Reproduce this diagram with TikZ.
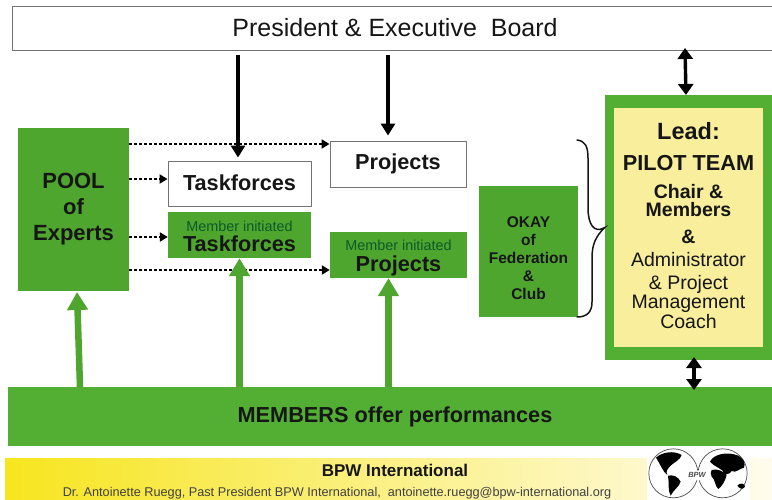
\documentclass[tikz,border=0pt]{standalone}
\usepackage{fontspec}
\setmainfont{Liberation Sans}
\usetikzlibrary{arrows.meta,calc}
\definecolor{grn}{HTML}{4FA62F}
\definecolor{grnb}{HTML}{53AF33}
\definecolor{pale}{HTML}{F8EE9C}
\definecolor{ink}{HTML}{161616}
\definecolor{minit}{HTML}{0B5A2A}
\definecolor{footL}{HTML}{F7E51E}
\definecolor{footM}{HTML}{FAF095}
\definecolor{footR}{HTML}{FFFCEE}
\newcommand{\minitxt}[1]{{\color{minit}\fontsize{14.4}{14.4}\selectfont #1}}
\newcommand{\bigtxt}[1]{{\bfseries\fontsize{21.7}{21.7}\selectfont #1}}
\tikzset{
  x=1pt,y=-1pt,
  greenbox/.style={fill=grn,draw=none,inner sep=0pt,text=ink,align=center},
  whitebox/.style={fill=white,draw=black!55,line width=0.9pt,inner sep=0pt,text=ink,align=center},
  blackarrow/.style={line width=3.6pt,-{Triangle[length=12pt,width=14pt]},black},
  bothway/.style={line width=3.4pt,{Triangle[length=11pt,width=15pt]}-{Triangle[length=11pt,width=15pt]},black},
  greenarrow/.style={line width=6.5pt,-{Triangle[length=18pt,width=20pt]},grn},
  dotarrow/.style={line width=2.6pt,dash pattern=on 2.4pt off 2.6pt,-{Triangle[length=8pt,width=9pt]},black},
  boxfont/.style={font=\bfseries\fontsize{#1}{#1}\selectfont},
  land/.style={fill=black,draw=none}
}
\begin{document}
\begin{tikzpicture}
\useasboundingbox (0,0) rectangle (772,500);
\fill[white] (0,0) rectangle (772,500);
% footer
\shade[left color=footL,middle color=footM,right color=footR] (5,458) rectangle (772,500);
\node[text=ink,font=\bfseries\fontsize{17}{17}\selectfont] (bpw) at (395,470) {BPW International};
\node[text=black!75,font=\fontsize{12.7}{12.7}\selectfont] (who) at (337,493) {Dr. Antoinette Ruegg, Past President BPW International,\ \ antoinette.ruegg@bpw-international.org};
% boxes
\node[whitebox,minimum width=770pt,minimum height=44pt,anchor=west,font=\fontsize{25}{25}\selectfont] (board) at (12,28) {};
\node[text=ink,inner sep=0pt,font=\fontsize{25}{25}\selectfont] (boardtxt) at (395,28) {President \&\ Executive\ \ Board};
\node[greenbox,minimum width=111pt,minimum height=163pt,font=\bfseries\fontsize{22}{26}\selectfont] (pool) at (73.5,209.5) {POOL\\of\\Experts};
\node[whitebox,minimum width=143pt,minimum height=45pt,boxfont=21.7] (tf) at (239.5,183.5) {\raisebox{2pt}{Taskforces}};
\node[greenbox,minimum width=143pt,minimum height=46pt,font=\fontsize{15}{20}\selectfont] (mtf) at (239.5,235) {\rule{0pt}{13pt}\minitxt{Member initiated}\\\bigtxt{Taskforces}};
\node[whitebox,minimum width=136pt,minimum height=46pt,boxfont=21.7] (pr) at (398,164) {\raisebox{2pt}{Projects}};
\node[greenbox,minimum width=137pt,minimum height=46pt,font=\fontsize{15}{21}\selectfont] (mpr) at (398.5,255) {\rule{0pt}{17pt}\minitxt{Member initiated}\\\bigtxt{Projects}};
\node[greenbox,minimum width=99pt,minimum height=131pt,font=\bfseries\fontsize{15.5}{18.2}\selectfont] (okay) at (528.5,251.5) {\rule{0pt}{24pt}OKAY\\of\\Federation\\\&\\Club};
\node[fill=grnb,inner sep=0pt,minimum width=167pt,minimum height=265pt] (pilotout) at (688.5,227.5) {};
\node[fill=pale,inner sep=0pt,minimum width=149pt,minimum height=239pt,text=ink,align=center,font=\fontsize{19.5}{19.5}\selectfont] (pilot) at (688.5,227.5) {%
{\bfseries\fontsize{23.5}{23.5}\selectfont Lead:}\\[12pt]
{\bfseries\fontsize{21.7}{21.7}\selectfont PILOT TEAM}\\[8.5pt]
{\bfseries Chair \&}\\[-1.5pt]
{\bfseries Members}\\[7.5pt]
{\bfseries \&}\\[3.5pt]
Administrator\\[3.5pt]
\& Project\\[-0.5pt]
Management\\[0.5pt]
Coach\rule[-4pt]{0pt}{4pt}};
\node[greenbox,fill=grnb,minimum width=764pt,minimum height=59pt,boxfont=21.7] (members) at (390,416.5) {\hspace{10pt}\raisebox{2pt}{MEMBERS offer performances}};
% brace
\coordinate (bracetip) at (pilotout.west);
\draw[ink,line width=1.5pt,line cap=round] (577,140) .. controls (585,141) and (588,146) .. (588,158)
  -- (588,208) .. controls (588,224) and (594,234) .. (bracetip)
  .. controls (596,236) and (592,244) .. (592,258)
  -- (592,302) .. controls (592,312) and (587,317) .. (577,317);
% black arrows
\draw[blackarrow,shorten <=5pt,shorten >=3pt] ($(board.south -| tf.north)+(-1.5,0)$) -- ($(tf.north)+(-1.5,0)$);
\draw[blackarrow,shorten <=5pt,shorten >=5pt] ($(board.south -| pr.north)+(-10,0)$) -- ($(pr.north)+(-10,0)$);
\coordinate (bwtop) at (685,48);
\coordinate (bwtopend) at (686,95);
\draw[bothway] (bwtop) -- (bwtopend);
\coordinate (bwlow) at (694,357);
\coordinate (bwlowend) at (694,390);
\draw[bothway] (bwlow) -- (bwlowend);
% dotted
\draw[dotarrow] (pool.east |- 0,144) -- (pr.west |- 0,144);
\draw[dotarrow] (pool.east |- 0,179) -- (tf.west |- 0,179);
\draw[dotarrow] (pool.east |- 0,237) -- (mtf.west |- 0,237);
\draw[dotarrow] (pool.east |- 0,270) -- (mpr.west |- 0,270);
% green arrows
\draw[greenarrow] (80,387) -- (77,292);
\draw[greenarrow] (members.north -| mtf.south) -- (mtf.south);
\draw[greenarrow] ($(members.north -| mpr.south)+(-10,0)$) -- ($(mpr.south)+(-10,0)$);
% logo
\begin{scope}[shift={(630,445)},x=0.3333pt,y=-0.3333pt]
\fill[white] (50,20) rectangle (360,165);
\draw[black!70,line width=.7pt,fill=white] (130,85) circle [radius=24.5pt];
\draw[black!70,line width=.7pt,fill=white] (278,85) circle [radius=24.5pt];
\fill[land] (78,38) .. controls (95,22) and (130,15) .. (155,30) .. controls (150,45) and (135,50) .. (122,62) .. controls (112,72) and (106,80) .. (112,90) .. controls (98,80) and (90,55) .. cycle;
\fill[land] (114,92) .. controls (128,88) and (145,95) .. (152,110) .. controls (148,125) and (130,135) .. (122,152) .. controls (112,135) and (118,110) .. cycle;
\fill[land] (240,50) .. controls (250,28) and (290,18) .. (325,32) .. controls (340,40) and (348,55) .. (342,68) .. controls (325,72) and (318,85) .. (305,78) .. controls (298,90) and (290,85) .. (285,88) .. controls (280,70) and (250,65) .. cycle;
\fill[land] (245,75) .. controls (260,70) and (280,78) .. (290,90) .. controls (285,110) and (275,125) .. (265,132) .. controls (255,125) and (255,100) .. (245,95) .. controls (240,90) and (242,82) .. cycle;
\fill[land] (322,122) .. controls (330,112) and (345,115) .. (345,125) .. controls (340,135) and (328,132) .. cycle;
\fill[white] (202,91) ellipse [x radius=14pt, y radius=5pt];
\end{scope}
\node[inner sep=0pt,text=black!70,font=\bfseries\itshape\fontsize{7.5}{7.5}\selectfont] (logo) at (697,475) {BPW};
\end{tikzpicture}
\end{document}
